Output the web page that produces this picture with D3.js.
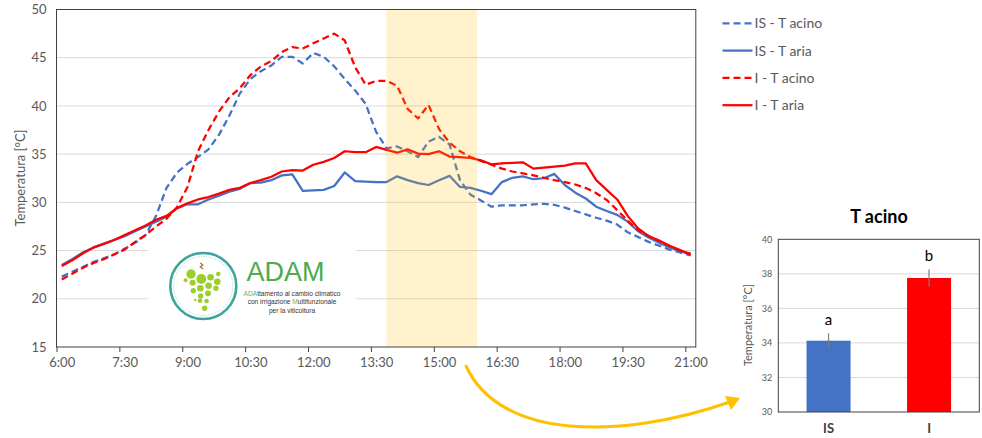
<!DOCTYPE html>
<html>
<head>
<meta charset="utf-8">
<script src="https://cdn.jsdelivr.net/npm/d3@7"></script>
<style>
  body { margin: 0; background: #fff; }
  text { font-family: Lato, "Liberation Sans", sans-serif; }
</style>
</head>
<body>
<svg id="chart" width="982" height="438"></svg>
<script>
// readings every 15 minutes from 6:00 to 21:00
var startMin = 360, stepMin = 15;
var isAcino = [22.3,22.8,23.3,23.8,24.2,24.6,25.2,25.8,26.6,28.6,31.5,33.1,34.0,34.7,35.5,37.0,39.0,41.3,42.8,43.6,
  44.2,45.1,45.1,44.4,45.5,45.1,44.1,42.8,41.6,40.2,37.3,35.6,35.8,35.3,34.7,36.3,36.8,36.0,32.3,30.8,
  30.2,29.55,29.7,29.7,29.7,29.8,29.85,29.75,29.45,29.1,28.75,28.4,28.1,27.7,26.9,26.4,25.9,25.5,25.1,24.8,24.5];
var isAria = [23.5,24.1,24.8,25.3,25.7,26.1,26.5,27.0,27.5,28.0,28.5,29.4,29.8,29.8,30.3,30.7,31.1,31.4,32.0,32.05,
  32.3,32.8,32.9,31.2,31.25,31.3,31.7,33.1,32.2,32.15,32.1,32.1,32.7,32.3,32.0,31.8,32.3,32.75,31.6,31.5,
  31.2,30.85,32.1,32.55,32.7,32.4,32.5,32.95,31.8,31.0,30.4,29.55,29.1,28.7,28.0,27.0,26.35,25.8,25.35,24.9,24.7];
var iAcino = [22.0,22.6,23.2,23.7,24.1,24.6,25.1,25.9,26.6,27.5,28.3,29.5,31.6,35.3,37.5,39.4,40.9,41.85,43.2,44.1,
  44.65,45.6,46.1,45.95,46.5,47.0,47.5,46.8,44.0,42.2,42.6,42.6,42.1,39.7,38.7,40.1,37.6,36.2,35.3,34.7,
  34.3,33.9,33.5,33.2,33.0,32.8,32.55,32.3,32.1,31.85,31.5,30.95,30.25,29.2,28.1,27.1,26.5,26.0,25.45,25.0,24.6];
var iAria = [23.4,24.0,24.7,25.3,25.7,26.1,26.6,27.1,27.6,28.2,28.6,29.4,29.9,30.3,30.55,30.9,31.3,31.5,32.0,32.3,
  32.65,33.2,33.35,33.3,33.9,34.2,34.6,35.3,35.2,35.2,35.75,35.45,35.15,35.5,35.05,35.0,35.3,34.75,34.7,34.6,
  34.35,33.95,34.05,34.1,34.15,33.5,33.6,33.7,33.8,34.05,34.05,32.3,31.3,30.3,28.6,27.3,26.5,26.05,25.5,25.05,24.6];

var seriesNames = ["IS - T acino", "IS - T aria", "I - T acino", "I - T aria"];
var seriesColors = ["#4472C4", "#4472C4", "#FF0000", "#FF0000"];
var seriesDashed = [true, false, true, false];

var yTicks = [15, 20, 25, 30, 35, 40, 45, 50];
var xTickLabels = ["6:00","7:30","9:00","10:30","12:00","13:30","15:00","16:30","18:00","19:30","21:00"];
var highlight = [832, 962]; // minutes, shaded period

// inset bar chart
var barCats = ["IS", "I"];
var barMeans = [34.13, 37.76];
var barErr = [0.43, 0.5];
var barLetters = ["a", "b"];
var barTicks = [30, 32, 34, 36, 38, 40];

function toMin(s) { var p = s.split(":"); return +p[0] * 60 + +p[1]; }

var svg = d3.select("#chart");
var L = 56.5, R = 695.8, T = 9.5, B = 347;

var x = d3.scaleLinear().domain([startMin, startMin + 61 * stepMin]).range([L, R]);
var y = d3.scaleLinear().domain([15, 50]).range([B, T]);
var half = stepMin / 2;

// gridlines
svg.append("g").selectAll("line")
  .data(yTicks.filter(function(d) { return d > 15 && d < 50; }))
  .enter().append("line")
  .attr("x1", L).attr("x2", R)
  .attr("y1", function(d) { return y(d); }).attr("y2", function(d) { return y(d); })
  .attr("stroke", "#d9d9d9").attr("stroke-width", 1);

// logo (white box over the grid)
var logo = svg.append("g");
logo.append("rect").attr("x", 148).attr("y", 242).attr("width", 208).attr("height", 90).attr("fill", "#fff");
var lg = logo.append("g").attr("transform", "translate(203.3,286)");
lg.append("circle").attr("r", 33).attr("fill", "#fff").attr("stroke", "#3aa69c").attr("stroke-width", 2.6);
lg.append("circle").attr("r", 29.5).attr("fill", "none").attr("stroke", "#6cc0b8")
  .attr("stroke-width", 0.8).attr("stroke-dasharray", "0.8,1.6");
var grapes = [[-12.3,-12,4.7],[-2,-7,5],[7.3,-8.7,3.3],[14,-4.3,3.3],[15,-12,2.3],[-17.7,-5.7,2],
  [-10.7,-3.3,3],[-3,2.3,3.3],[5.3,-0.3,3.3],[12.7,2.3,2.7],[-10,4.7,2.7],[-2.7,10,2.7],[4.7,7.3,3],
  [-3.3,14.7,2.3],[3.3,15,2.3],[1.3,22.3,2.7],[-8,14,1.3]];
lg.selectAll("circle.g").data(grapes).enter().append("circle").attr("class", "g")
  .attr("cx", function(d) { return d[0]; }).attr("cy", function(d) { return d[1]; })
  .attr("r", function(d) { return d[2]; }).attr("fill", "#9bd02c");
lg.append("path").attr("d", "M-3,-23 L-0.5,-21 L-3,-19 L0,-17")
  .attr("fill", "none").attr("stroke", "#b0703a").attr("stroke-width", 1.3);
logo.append("text").attr("x", 246.5).attr("y", 281).attr("font-size", 27).attr("fill", "#4daa4d")
  .style("font-family", "'Liberation Sans', sans-serif").text("ADAM");
var sub = [[["ADA", "#5cb85c"], ["ttamento al cambio climatico", "#333"]],
           [["con irrigazione ", "#333"], ["M", "#5cb85c"], ["ultifunzionale", "#333"]],
           [["per la viticoltura", "#333"]]];
sub.forEach(function(parts, i) {
  var t = logo.append("text").attr("x", 292).attr("y", 295.5 + i * 8.6)
    .attr("text-anchor", "middle").attr("font-size", 6.6)
    .style("font-family", "'Liberation Sans', sans-serif");
  parts.forEach(function(p) { t.append("tspan").attr("fill", p[1]).text(p[0]); });
});

// lines
var line = d3.line()
  .x(function(d, i) { return x(startMin + i * stepMin + half); })
  .y(function(d) { return y(d); });
[isAcino, isAria, iAcino, iAria].forEach(function(s, i) {
  svg.append("path").datum(s)
    .attr("d", line)
    .attr("fill", "none")
    .attr("stroke", seriesColors[i])
    .attr("stroke-width", 2.25)
    .attr("stroke-linejoin", "round")
    .attr("stroke-dasharray", seriesDashed[i] ? "7,4" : null);
});

// shaded period on top
svg.append("rect")
  .attr("x", x(highlight[0])).attr("width", x(highlight[1]) - x(highlight[0]))
  .attr("y", T).attr("height", B - T)
  .attr("fill", "#FFC000").attr("fill-opacity", 0.2);

// frame
svg.append("rect").attr("x", L).attr("y", T).attr("width", R - L).attr("height", B - T)
  .attr("fill", "none").attr("stroke", "#404040").attr("stroke-width", 1);

// x axis
var xAxis = svg.append("g").attr("transform", "translate(0," + B + ")")
  .call(d3.axisBottom(x).tickValues(xTickLabels.map(toMin))
    .tickFormat(function(d, i) { return xTickLabels[i]; }).tickSize(5).tickPadding(6));
xAxis.select(".domain").remove();
xAxis.selectAll("line").attr("stroke", "#404040");
xAxis.selectAll("text").attr("dx", x(startMin + half) - x(startMin))
  .attr("font-size", 13).attr("fill", "#595959").style("font-family", "Lato, sans-serif");

// y axis
var yAxis = svg.append("g").attr("transform", "translate(" + L + ",0)")
  .call(d3.axisLeft(y).tickValues(yTicks).tickSize(0).tickPadding(10));
yAxis.select(".domain").remove();
yAxis.selectAll("text").attr("font-size", 13).attr("fill", "#595959").style("font-family", "Lato, sans-serif");

svg.append("text").attr("transform", "translate(25,178) rotate(-90)")
  .attr("text-anchor", "middle").attr("font-size", 13).attr("fill", "#595959")
  .text("Temperatura [°C]");

// legend
var leg = svg.append("g").selectAll("g").data(seriesNames).enter().append("g")
  .attr("transform", function(d, i) { return "translate(722.5," + (23.3 + i * 27.3) + ")"; });
leg.append("line").attr("x1", 0).attr("x2", 30)
  .attr("stroke", function(d, i) { return seriesColors[i]; })
  .attr("stroke-width", 2.25)
  .attr("stroke-dasharray", function(d, i) { return seriesDashed[i] ? "7,4" : null; });
leg.append("text").attr("x", 32).attr("dy", "0.35em").attr("font-size", 14).attr("fill", "#595959")
  .text(function(d) { return d; });

// inset bar chart
var bL = 778.3, bR = 979.3, bT = 239.3, bB = 412;
var xb = d3.scaleBand().domain(barCats).range([bL, bR]).paddingInner(0.562).paddingOuter(0.281);
var yb = d3.scaleLinear().domain([30, 40]).range([bB, bT]);

svg.append("text").attr("x", 879).attr("y", 223).attr("text-anchor", "middle")
  .attr("font-size", 18).attr("font-weight", "bold").attr("fill", "#000").text("T acino");

svg.append("g").selectAll("line").data(barTicks.filter(function(d) { return d > 30 && d < 40; }))
  .enter().append("line")
  .attr("x1", bL).attr("x2", bR)
  .attr("y1", function(d) { return yb(d); }).attr("y2", function(d) { return yb(d); })
  .attr("stroke", "#d9d9d9").attr("stroke-width", 1);

svg.append("g").selectAll("rect").data(barMeans).enter().append("rect")
  .attr("x", function(d, i) { return xb(barCats[i]); })
  .attr("width", xb.bandwidth())
  .attr("y", function(d) { return yb(d); })
  .attr("height", function(d) { return bB - yb(d); })
  .attr("fill", function(d, i) { return i === 0 ? "#4472C4" : "#FF0000"; });

svg.append("g").selectAll("line").data(barMeans).enter().append("line")
  .attr("x1", function(d, i) { return xb(barCats[i]) + xb.bandwidth() / 2; })
  .attr("x2", function(d, i) { return xb(barCats[i]) + xb.bandwidth() / 2; })
  .attr("y1", function(d, i) { return yb(d + barErr[i]); })
  .attr("y2", function(d, i) { return yb(d - barErr[i]); })
  .attr("stroke", "#7f7f7f").attr("stroke-width", 1.2);

svg.append("g").selectAll("text").data(barLetters).enter().append("text")
  .attr("x", function(d, i) { return xb(barCats[i]) + xb.bandwidth() / 2; })
  .attr("y", function(d, i) { return yb(barMeans[i] + barErr[i]) - 8; })
  .attr("text-anchor", "middle").attr("font-size", 15).attr("fill", "#000")
  .text(function(d) { return d; });

svg.append("rect").attr("x", bL).attr("y", bT).attr("width", bR - bL).attr("height", bB - bT)
  .attr("fill", "none").attr("stroke", "#404040").attr("stroke-width", 1);

var ybAxis = svg.append("g").attr("transform", "translate(" + bL + ",0)")
  .call(d3.axisLeft(yb).tickValues(barTicks).tickSize(0).tickPadding(6));
ybAxis.select(".domain").remove();
ybAxis.selectAll("text").attr("font-size", 9).attr("fill", "#595959").style("font-family", "Lato, sans-serif");

var xbAxis = svg.append("g").attr("transform", "translate(0," + bB + ")")
  .call(d3.axisBottom(xb).tickSize(0).tickPadding(12));
xbAxis.select(".domain").remove();
xbAxis.selectAll("text").attr("font-size", 13).attr("font-weight", "bold").attr("fill", "#404040")
  .style("font-family", "Lato, sans-serif");

svg.append("text").attr("transform", "translate(752,325) rotate(-90)")
  .attr("text-anchor", "middle").attr("font-size", 11).attr("fill", "#595959")
  .text("Temperatura [°C]");

// arrow linking the shaded period to the inset
svg.append("path").attr("d", "M466,366 C500,440 620,440 730,402")
  .attr("fill", "none").attr("stroke", "#FFC000").attr("stroke-width", 3).attr("stroke-linecap", "round");
svg.append("path").attr("d", "M740,398 L725,396 L731,410 Z").attr("fill", "#FFC000");
</script>
</body>
</html>
